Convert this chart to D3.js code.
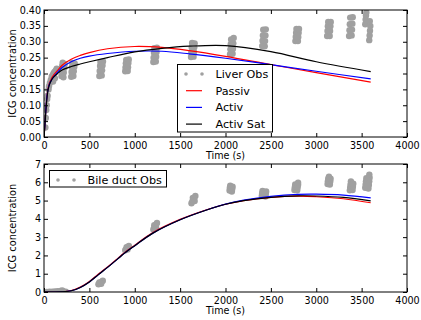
<!DOCTYPE html>
<html><head><meta charset="utf-8">
<script src="https://cdn.jsdelivr.net/npm/d3@7"></script>
<style>body{margin:0;background:#fff} text{font-family:"DejaVu Sans",sans-serif}</style>
</head><body><svg id="c" width="421" height="320"></svg>
<script>
// ---------- data ----------
const xTicks = [0,500,1000,1500,2000,2500,3000,3500,4000];
const yTicksTop = [0,0.05,0.10,0.15,0.20,0.25,0.30,0.35,0.40];
const yTicksBot = [0,1,2,3,4,5,6,7];

// model time grid (s) for the liver panel
const liverTime = [0,10,20,30,40,50,60,80,100,150,200,300,400,500,700,1000,1300,1600,2000,2500,3000,3600];
const liverPassiv = [0,0.040,0.085,0.120,0.145,0.160,0.170,0.183,0.193,0.210,0.226,0.245,0.257,0.266,0.278,0.285,0.282,0.272,0.254,0.228,0.203,0.173];
const liverActiv  = [0,0.040,0.085,0.120,0.143,0.157,0.167,0.178,0.187,0.204,0.219,0.237,0.248,0.255,0.263,0.270,0.270,0.262,0.248,0.228,0.207,0.183];
const liverActivSat=[0,0.035,0.080,0.115,0.140,0.155,0.165,0.178,0.187,0.200,0.211,0.222,0.230,0.237,0.250,0.268,0.279,0.286,0.288,0.269,0.237,0.206];

// model time grid (s) for the bile duct panel
const bileTime = [0,100,200,300,400,500,600,750,900,1000,1200,1500,1800,2000,2200,2500,2800,3000,3300,3600];
const bilePassiv  = [0,0,0.01,0.08,0.27,0.58,0.98,1.58,2.20,2.56,3.25,3.97,4.51,4.80,5.00,5.17,5.24,5.21,5.10,4.88];
const bileActiv   = [0,0,0.01,0.07,0.25,0.55,0.95,1.55,2.17,2.53,3.22,3.95,4.50,4.81,5.02,5.23,5.34,5.35,5.30,5.15];
const bileActivSat= [0,0,0.01,0.07,0.25,0.55,0.95,1.55,2.17,2.53,3.22,3.95,4.50,4.80,5.00,5.18,5.26,5.25,5.17,4.98];

// observations [time (s), concentration]
const liverObs = [
 [15,0.03],[20,0.06],[25,0.085],[30,0.10],[35,0.12],[40,0.13],[50,0.15],[55,0.16],[65,0.17],[75,0.18],[85,0.19],[95,0.195],[105,0.20],[115,0.205],[130,0.21],[140,0.215],[100,0.175],[120,0.185],
 [192,0.192],[196,0.208],[200,0.224],[206,0.234],[214,0.188],[218,0.203],[224,0.218],[228,0.230],
 [300,0.190],[304,0.205],[308,0.220],[312,0.233],[324,0.192],[328,0.207],[334,0.221],[338,0.232],
 [610,0.192],[614,0.208],[618,0.224],[622,0.236],[636,0.194],[640,0.210],[645,0.225],[650,0.238],
 [895,0.207],[898,0.219],[902,0.232],[906,0.243],[922,0.208],[926,0.220],[930,0.233],[934,0.244],
 [1205,0.236],[1208,0.250],[1212,0.265],[1216,0.280],[1232,0.238],[1236,0.253],[1240,0.268],[1244,0.281],
 [1620,0.252],[1624,0.267],[1628,0.282],[1632,0.296],[1648,0.253],[1652,0.268],[1656,0.283],[1660,0.295],
 [2050,0.261],[2054,0.276],[2058,0.292],[2062,0.307],[2078,0.262],[2082,0.278],[2086,0.295],[2090,0.312],
 [2405,0.287],[2408,0.303],[2412,0.320],[2416,0.338],[2432,0.286],[2436,0.302],[2440,0.320],[2444,0.339],
 [2770,0.302],[2774,0.315],[2778,0.328],[2782,0.340],[2798,0.302],[2802,0.315],[2806,0.328],[2810,0.340],
 [3120,0.318],[3124,0.334],[3128,0.349],[3132,0.362],[3148,0.318],[3152,0.334],[3156,0.349],[3160,0.362],
 [3362,0.318],[3366,0.336],[3370,0.355],[3374,0.376],[3390,0.320],[3394,0.338],[3398,0.357],[3402,0.377],
 [3540,0.355],[3544,0.370],[3548,0.383],[3552,0.392],[3584,0.305],[3588,0.320],[3592,0.335],[3596,0.350],[3590,0.365]
];
const bileObs = [
 [30,0.0],[60,0.01],[90,0.02],[120,0.03],[150,0.04],[180,0.06],[210,0.05],[240,0.02],[200,0.08],
 [600,0.42],[612,0.47],[624,0.52],[636,0.57],[648,0.62],[610,0.52],[630,0.45],
 [895,2.28],[905,2.34],[915,2.40],[925,2.46],[935,2.52],[910,2.45],[920,2.33],
 [1205,3.42],[1215,3.50],[1225,3.60],[1235,3.70],[1245,3.78],[1215,3.65],[1235,3.52],
 [1625,4.85],[1635,4.95],[1645,5.05],[1655,5.15],[1668,5.25],[1640,5.15],[1660,4.98],
 [2045,5.55],[2048,5.70],[2052,5.82],[2070,5.50],[2074,5.63],[2078,5.76],
 [2400,5.25],[2404,5.40],[2408,5.52],[2440,5.22],[2444,5.36],[2448,5.50],
 [2760,5.58],[2764,5.73],[2768,5.88],[2790,5.56],[2795,5.72],[2800,5.86],[2800,5.98],
 [3125,5.90],[3128,6.05],[3132,6.20],[3150,5.88],[3154,6.04],[3158,6.20],[3140,6.30],
 [3370,5.56],[3374,5.72],[3378,5.88],[3382,6.05],[3400,5.58],[3404,5.75],[3408,5.92],
 [3540,5.70],[3544,5.88],[3548,6.05],[3552,6.22],[3575,5.66],[3580,5.85],[3584,6.05],[3588,6.25],[3585,6.42]
];

const xLabel = "Time (s)";
const yLabel = "ICG concentration";
const topLegend = ["Liver Obs","Passiv","Activ","Activ Sat"];
const botLegend = ["Bile duct Obs"];

// ---------- drawing ----------
const svg = d3.select("#c");
const obsColor = "#a0a0a0";
const lineColors = ["#ff0000","#0000ff","#000000"];
const L = 44, R = 407;

function panel(id, top, bottom, yDomain, yTicks, yFmt, obs, time, series) {
  const x = d3.scaleLinear().domain([0,4000]).range([L,R]);
  const y = d3.scaleLinear().domain(yDomain).range([bottom, top]);
  const g = svg.append("g");
  g.append("clipPath").attr("id","clip"+id).append("rect")
    .attr("x",L).attr("y",top).attr("width",R-L).attr("height",bottom-top);
  const plot = g.append("g").attr("clip-path","url(#clip"+id+")");
  plot.selectAll("circle").data(obs).join("circle")
    .attr("cx",d=>x(d[0])).attr("cy",d=>y(d[1])).attr("r",3.2).attr("fill",obsColor);
  const line = d3.line().x((d,i)=>x(time[i])).y(d=>y(d)).curve(d3.curveCatmullRom.alpha(0.5));
  series.forEach((s,k)=>{
    plot.append("path").attr("d",line(s)).attr("fill","none")
      .attr("stroke",lineColors[k]).attr("stroke-width",1.2);
  });
  const fs = "9.6px";
  const ax = g.append("g").attr("transform",`translate(0,${bottom})`)
    .call(d3.axisBottom(x).tickValues(xTicks).tickFormat(d3.format("d")).tickSizeInner(-4).tickSizeOuter(0).tickPadding(5));
  const axT = g.append("g").attr("transform",`translate(0,${top})`)
    .call(d3.axisTop(x).tickValues(xTicks).tickFormat("").tickSizeInner(-4).tickSizeOuter(0));
  const ay = g.append("g").attr("transform",`translate(${L},0)`)
    .call(d3.axisLeft(y).tickValues(yTicks).tickFormat(yFmt).tickSizeInner(-4).tickSizeOuter(0).tickPadding(3));
  const ayR = g.append("g").attr("transform",`translate(${R},0)`)
    .call(d3.axisRight(y).tickValues(yTicks).tickFormat("").tickSizeInner(-4).tickSizeOuter(0));
  [ax,axT,ay,ayR].forEach(a=>{
    a.select(".domain").remove();
    a.selectAll("line").attr("stroke","#000");
    a.selectAll("text").attr("font-size",fs).attr("fill","#000").attr("font-family","DejaVu Sans");
  });
  g.append("rect").attr("x",L).attr("y",top).attr("width",R-L).attr("height",bottom-top)
    .attr("fill","none").attr("stroke","#000").attr("stroke-width",1);
  g.append("text").attr("x",(L+R)/2).attr("y",bottom+22).attr("text-anchor","middle")
    .attr("font-size","9.6px").text(xLabel);
  g.append("text").attr("transform",`translate(16,${(top+bottom)/2}) rotate(-90)`)
    .attr("text-anchor","middle").attr("font-size","9.8px").text(yLabel);
  return g;
}

panel("t", 10, 137, [0,0.4], yTicksTop, d3.format(".2f"), liverObs, liverTime, [liverPassiv, liverActiv, liverActivSat]);
panel("b", 164, 292, [0,7], yTicksBot, d3.format("d"), bileObs, bileTime, [bilePassiv, bileActiv, bileActivSat]);

function legend(x0, y0, w, h, labels) {
  const g = svg.append("g");
  g.append("rect").attr("x",x0).attr("y",y0).attr("width",w).attr("height",h)
    .attr("fill","#fff").attr("stroke","#000").attr("stroke-width",1);
  labels.forEach((lab,i)=>{
    const cy = y0 + 9.5 + i*16.7;
    if (i===0) {
      [x0+8.5, x0+24.5].forEach(cx=>g.append("circle").attr("cx",cx).attr("cy",cy).attr("r",1.8).attr("fill",obsColor));
    } else {
      g.append("line").attr("x1",x0+8.5).attr("x2",x0+24.5).attr("y1",cy).attr("y2",cy)
        .attr("stroke",lineColors[i-1]).attr("stroke-width",1.2);
    }
    g.append("text").attr("x",x0+38).attr("y",cy).attr("dy","0.36em")
      .attr("font-size","11.2px").text(lab);
  });
}
legend(177.5, 64.5, 95, 67.5, topLegend);
legend(49.5, 170.5, 117, 16.5, botLegend);
</script></body></html>
